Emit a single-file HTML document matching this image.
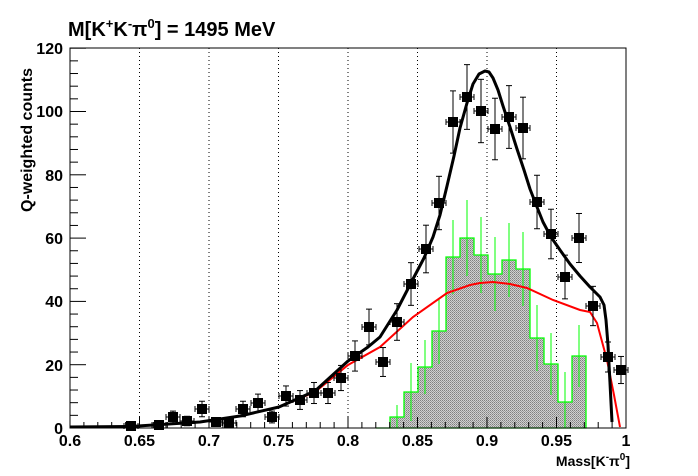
<!DOCTYPE html>
<html><head><style>body{margin:0;background:#fff}svg{display:block}text{font-family:"Liberation Sans",sans-serif;font-weight:bold}</style></head>
<body>
<svg width="698" height="476" viewBox="0 0 698 476" xmlns="http://www.w3.org/2000/svg">
<defs><pattern id="hp" width="2" height="2" patternUnits="userSpaceOnUse"><rect width="2" height="2" fill="#d0d0d0"/><rect width="1" height="1" fill="#808080"/><rect x="1" y="1" width="1" height="1" fill="#9a9a9a"/></pattern></defs>
<g stroke="#000" stroke-dasharray="1,3" stroke-width="1">
<line x1="139.5" y1="48" x2="139.5" y2="428"/><line x1="209" y1="48" x2="209" y2="428"/><line x1="278.5" y1="48" x2="278.5" y2="428"/><line x1="348" y1="48" x2="348" y2="428"/><line x1="417.5" y1="48" x2="417.5" y2="428"/><line x1="487" y1="48" x2="487" y2="428"/><line x1="556.5" y1="48" x2="556.5" y2="428"/>
</g>
<path d="M376,428 V428 H390 V417 H404 V392 H418 V367 H432 V331 H446 V257 H460 V238 H474 V255 H488 V274 H502 V260 H516 V269 H530 V338 H544 V364 H558 V402 H572 V356 H586 V428 Z" fill="url(#hp)" stroke="#0f0" stroke-width="1.3"/>
<g stroke="#0f0" stroke-width="1">
<line x1="397" y1="405" x2="397" y2="428"/><line x1="411" y1="363" x2="411" y2="421"/><line x1="425" y1="340" x2="425" y2="394"/><line x1="439" y1="298" x2="439" y2="364"/><line x1="453" y1="220" x2="453" y2="294"/><line x1="467" y1="200" x2="467" y2="276"/><line x1="481" y1="217" x2="481" y2="293"/><line x1="495" y1="237" x2="495" y2="311"/><line x1="509" y1="223" x2="509" y2="297"/><line x1="523" y1="232" x2="523" y2="306"/><line x1="537" y1="305" x2="537" y2="371"/><line x1="551" y1="333" x2="551" y2="395"/><line x1="565" y1="372" x2="565" y2="428"/><line x1="579" y1="325" x2="579" y2="387"/>
</g>
<polyline fill="none" stroke="#f00" stroke-width="2" points="70,427 130,426.5 200,422 240,416 279,407 315,392 348,365 380,347 413,317 447,293 470,285 480,283 493,282 510,284 527,288 553,300 580,310 590,312 597,323 607,360 614,395 620,427"/>
<polyline fill="none" stroke="#000" stroke-width="3" stroke-linejoin="round" points="70,427 130,426.5 200,422 240,416 279,407 315,391 348,361 368,347 380,337 397,310 413,279 424,258 433,237 440,215 447,186 454,156 460,128 467,103 473,84 479,74 485,71 489,72 493,78 498,90 503,106 510,127 517,149 524,170 530,189 537,207 543,222 551,237 560,250 570,264 580,276 590,287 600,297 604,305 606,320 608,345 610,383 612,422"/>
<g id="pts" stroke="#000" stroke-width="1" fill="#000"></g>
<rect x="70" y="48" width="556" height="380" fill="none" stroke="#000" stroke-width="1"/>
<g stroke="#000" stroke-width="1" id="ticks"></g>
<g font-size="16" text-anchor="middle">
<text x="70" y="446">0.6</text><text x="139.5" y="446">0.65</text><text x="209" y="446">0.7</text><text x="278.5" y="446">0.75</text><text x="348" y="446">0.8</text><text x="417.5" y="446">0.85</text><text x="487" y="446">0.9</text><text x="556.5" y="446">0.95</text><text x="626" y="446">1</text>
</g>
<g font-size="16" text-anchor="end">
<text x="63" y="434">0</text><text x="63" y="371">20</text><text x="63" y="307">40</text><text x="63" y="244">60</text><text x="63" y="181">80</text><text x="63" y="117">100</text><text x="63" y="54">120</text>
</g>
<text x="630" y="466" font-size="14" text-anchor="end">Mass[K<tspan dy="-6" font-size="10">-</tspan><tspan dy="6">π</tspan><tspan dy="-6" font-size="10">0</tspan><tspan dy="6">]</tspan></text>
<text transform="translate(32,140) rotate(-90)" font-size="16" text-anchor="middle" x="-0" y="0">Q-weighted counts</text>
<text x="68" y="36" font-size="20">M[K<tspan dy="-8" font-size="13">+</tspan><tspan dy="8">K</tspan><tspan dy="-8" font-size="13">-</tspan><tspan dy="8">π</tspan><tspan dy="-8" font-size="13">0</tspan><tspan dy="8">] = 1495 MeV</tspan></text>
</svg>
<script>
var ns="http://www.w3.org/2000/svg";
var P=[[131,426],[159,425],[173,417],[187,421],[202,409],[216,422],[229,423],[243,409],[258,403],[272,417],[286,396],[300,400],[314,393],[328,393],[341,378],[355,356],[369,327],[383,362],[397,322],[411,284],[426,249],[439,203],[453,122],[467,97],[481,111],[495,129],[509,117],[523,128],[537,202],[551,234],[565,277],[579,238],[593,306],[608,357],[621,370]];
var g=document.getElementById("pts");
function L(p,a,b,c,d){var l=document.createElementNS(ns,"line");l.setAttribute("x1",a);l.setAttribute("y1",b);l.setAttribute("x2",c);l.setAttribute("y2",d);p.appendChild(l);}
P.forEach(function(p){var x=p[0],y=p[1],n=(428-y)/3.165;var e=Math.sqrt(Math.max(n,0.5))*3.165;
L(g,x-7,y,x+7,y);L(g,x,y-e,x,y+e);L(g,x-7,y-3,x-7,y+3);L(g,x+7,y-3,x+7,y+3);L(g,x-3,y-e,x+3,y-e);L(g,x-3,y+e,x+3,y+e);
var r=document.createElementNS(ns,"rect");r.setAttribute("x",x-4.5);r.setAttribute("y",y-4.5);r.setAttribute("width",9);r.setAttribute("height",9);g.appendChild(r);});
var t=document.getElementById("ticks");
for(var i=0;i<=40;i++){var x=70+i*13.9;var len=(i%5==0)?11:6;L(t,x,428,x,428-len);}
for(var j=0;j<=30;j++){var y=428-j*12.66;if(y<48)break;var len=(j%5==0)?16:8;L(t,70,y,70+len,y);}
</script>
</body></html>
